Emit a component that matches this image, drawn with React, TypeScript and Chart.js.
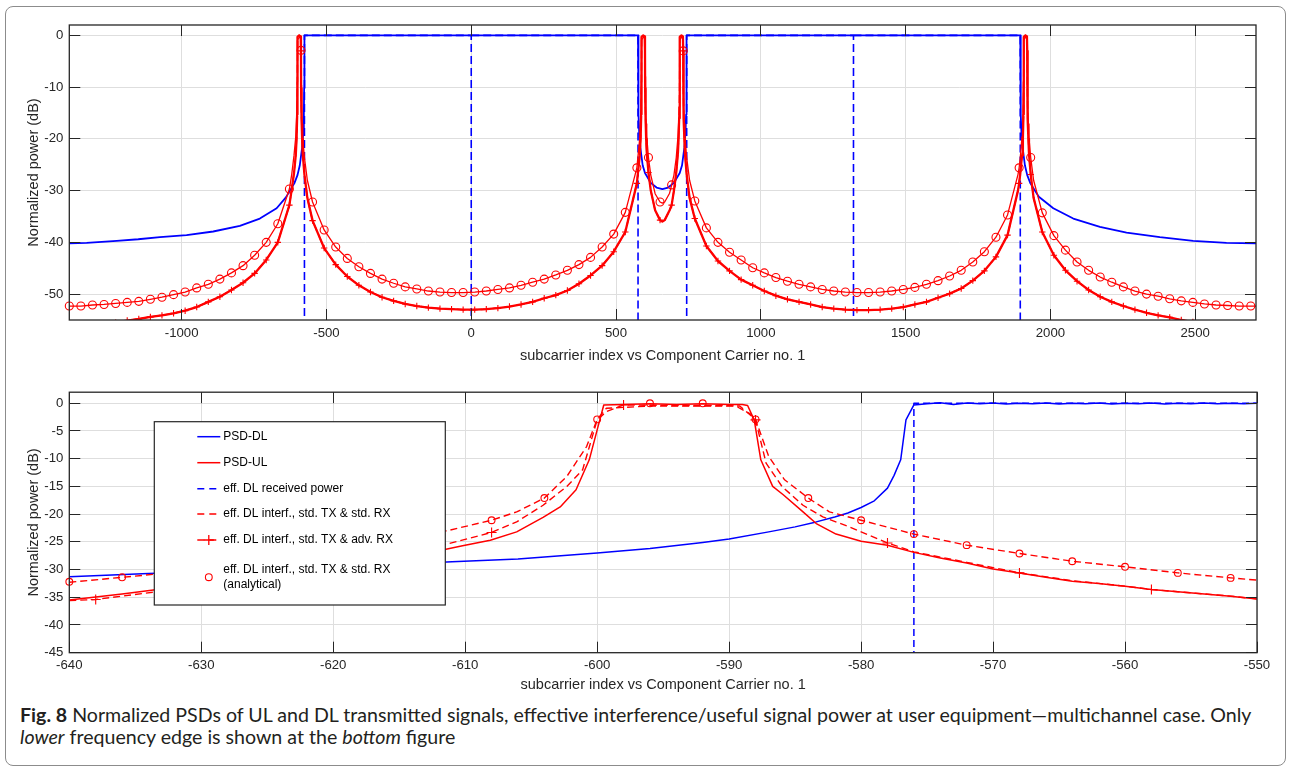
import React, { useEffect, useRef } from "react";
import { Chart, registerables } from "chart.js";

Chart.register(...registerables);

const FONT = "'Liberation Sans', Arial, Helvetica, sans-serif";
const BLUE = "#0000ff";
const RED = "#ff0000";
const AXIS = "#262626";
const GRID = "#dedede";

const X_TITLE = "subcarrier index vs Component Carrier no. 1";
const Y_TITLE = "Normalized power (dB)";

// ---------------- TOP CHART DATA ----------------
const topXRange = [-1388, 2710];
const topYRange = [-55, 2];
const topXTicks = [-1000, -500, 0, 500, 1000, 1500, 2000, 2500];
const topYTicks = [-50, -40, -30, -20, -10, 0];

// PSD-DL (blue, solid)
const topDlX = [-1388, -1328, -1224, -1150, -1075, -983, -891, -799, -730, -672, -640, -611, -600, -592, -584, -580, -578, -577, -576, 576, 577, 578, 580, 584, 592, 600, 620, 640, 660, 680, 700, 720, 728, 736, 740, 742, 743, 744, 1896, 1897, 1898, 1900, 1904, 1912, 1920, 1931, 1960, 2010, 2079, 2171, 2263, 2378, 2493, 2608, 2710];
const topDlY = [-40.2, -40.1, -39.7, -39.4, -39.0, -38.6, -37.9, -36.8, -35.4, -33.4, -31.3, -28.6, -27.0, -25.1, -21.7, -18.8, -15.3, -10.2, 0, 0, -10.2, -15.3, -18.8, -21.7, -25.1, -26.6, -28.5, -29.4, -29.7, -29.4, -28.5, -26.6, -25.1, -21.7, -18.8, -15.3, -10.2, 0, 0, -10.2, -15.3, -18.8, -21.7, -25.1, -27.0, -28.6, -31.2, -33.4, -35.4, -37.0, -38.1, -39.0, -39.7, -40.1, -40.2];

// eff. DL received power (blue, dashed); -300 stands for a null (-inf dB), null = gap
const topRxX = [-576, -576, 0, 0, 0, 0, 576, 576, 660, 744, 744, 1320, 1320, 1320, 1320, 1896, 1896];
const topRxY = [-300, 0, 0, -300, null, 0, 0, -300, null, -300, 0, 0, -300, null, 0, 0, -300];

// red curves, shared x grid
const topRedX = [
  -1388, -1348, -1308, -1268, -1228, -1188, -1148, -1108, -1068, -1028, -988, -948, -908, -868, -828, -788, -748, -708, -668, -628,
  -620, -612, -606, -603, -601, -600.5, -600, -599.5, -594, -589, -588, -587.5, -586, -584, -582, -576, -566,
  -548, -508, -468, -428, -388, -348, -308, -268, -228, -188, -148, -108, -68, -28, 12, 52, 92, 132, 172, 212, 252, 292, 332, 372, 412, 452, 492, 532,
  572, 582, 585, 587, 587.5, 588, 588.5, 594, 599, 600, 600.5, 602, 604, 606, 612, 620, 635, 652, 660, 668, 685, 692, 700, 708, 714, 716, 718, 719.5, 720, 720.5, 726, 731, 732, 732.5, 734, 736, 738, 744, 754, 772,
  812, 852, 892, 932, 972, 1012, 1052, 1092, 1132, 1172, 1212, 1252, 1292, 1332, 1372, 1412, 1452, 1492, 1532, 1572, 1612, 1652, 1692, 1732, 1772, 1812, 1852,
  1888, 1892, 1896, 1902, 1905, 1907, 1907.5, 1908, 1908.5, 1914, 1919, 1920, 1920.5, 1922, 1924, 1926, 1932, 1942, 1972,
  2012, 2052, 2092, 2132, 2172, 2212, 2252, 2292, 2332, 2372, 2412, 2452, 2492, 2532, 2572, 2612, 2652, 2692, 2710,
];
// PSD-UL / eff. DL interf. std TX & adv RX (overlapping, red with +)
const topUlY = [
  -57.3, -56.8, -56.4, -56.0, -55.5, -55.1, -54.8, -54.4, -54.1, -53.7, -53.2, -52.5, -51.5, -50.5, -49.2, -47.8, -46.0, -43.4, -40.0, -32.8,
  -29.8, -26.6, -23.2, -19.8, -15.3, -10.2, -4.8, -0.3, 0, -0.2, -3.0, -10.2, -16.0, -20.0, -22.8, -26.9, -31.4,
  -35.8, -41.1, -44.3, -46.6, -48.3, -49.6, -50.6, -51.3, -51.9, -52.3, -52.6, -52.8, -52.9, -53.0, -53.0, -52.9, -52.7, -52.4, -52.0, -51.5, -50.8, -50.2, -49.3, -48.0, -46.4, -44.5, -41.8, -38.0,
  -28.6, -23.2, -19.8, -15.3, -10.2, -4.8, -0.3, 0, -0.2, -3.0, -10.2, -16.0, -20.0, -22.5, -26.5, -30.0, -33.8, -35.7, -36.0, -35.7, -33.8, -32.8, -30.0, -26.5, -22.5, -20.0, -16.0, -10.2, -4.8, -0.3, 0, -0.2, -3.0, -10.2, -16.0, -20.0, -22.8, -26.9, -31.4, -35.4,
  -40.7, -43.6, -45.5, -47.2, -48.3, -49.4, -50.3, -51.0, -51.5, -52.0, -52.5, -52.8, -53.0, -53.1, -53.1, -53.0, -52.8, -52.5, -52.0, -51.5, -50.7, -49.9, -48.9, -47.4, -45.5, -42.8, -38.6,
  -30.0, -28.6, -26.6, -23.2, -19.8, -15.3, -10.2, -4.8, -0.3, 0, -0.2, -3.0, -10.2, -16.0, -20.0, -22.8, -26.9, -31.4, -38.0,
  -42.5, -45.4, -47.5, -49.2, -50.5, -51.5, -52.3, -53.0, -53.6, -54.1, -54.5, -55.0, -55.4, -55.8, -56.1, -56.4, -56.7, -57.0, -57.1,
];
// eff. DL interf. std TX & std RX (red with circles)
const topStdY = [
  -52.3, -52.3, -52.1, -52.0, -51.8, -51.6, -51.4, -51.0, -50.6, -50.1, -49.6, -48.8, -48.1, -47.1, -45.9, -44.5, -42.5, -40.0, -36.4, -29.7,
  -26.9, -23.2, -19.6, -15.5, -9.0, -5.5, -2.9, -0.9, -0.4, -0.5, -2.9, -9.6, -13.8, -17.1, -19.8, -23.6, -28.0,
  -32.2, -37.6, -40.9, -43.1, -44.7, -46.0, -47.1, -47.9, -48.6, -49.0, -49.4, -49.6, -49.7, -49.7, -49.6, -49.4, -49.1, -48.8, -48.3, -47.7, -47.1, -46.3, -45.4, -44.3, -42.9, -40.9, -38.4, -34.2,
  -25.6, -19.8, -15.5, -9.0, -5.5, -2.9, -0.9, -0.4, -0.5, -2.9, -8.0, -13.8, -17.1, -19.5, -23.6, -27.0, -30.6, -32.2, -32.4, -32.2, -30.5, -28.9, -27.0, -23.6, -19.5, -17.1, -13.8, -8.0, -2.9, -0.9, -0.4, -0.5, -3.0, -8.0, -13.8, -17.1, -19.8, -23.6, -28.0, -32.0,
  -37.2, -40.0, -41.9, -43.4, -44.9, -45.9, -46.8, -47.5, -48.1, -48.6, -49.1, -49.4, -49.6, -49.7, -49.7, -49.6, -49.4, -49.1, -48.7, -48.1, -47.4, -46.5, -45.4, -43.8, -41.8, -39.0, -34.7,
  -26.9, -25.6, -23.6, -19.6, -15.5, -9.0, -5.5, -2.9, -0.9, -0.4, -0.5, -2.9, -8.0, -13.8, -17.1, -19.8, -23.6, -28.0, -34.3,
  -38.7, -41.5, -43.8, -45.4, -46.7, -47.7, -48.6, -49.4, -50.0, -50.4, -50.9, -51.3, -51.6, -51.9, -52.1, -52.2, -52.3, -52.3, -52.3,
];
const topMarkerOrigin = -1388;
const topMarkerStep = 40;

// ---------------- BOTTOM CHART DATA ----------------
const botXRange = [-640, -550];
const botYRange = [-45, 2];
const botXTicks = [-640, -630, -620, -610, -600, -590, -580, -570, -560, -550];
const botYTicks = [-45, -40, -35, -30, -25, -20, -15, -10, -5, 0];

const botDlX = [-640, -634, -622, -611, -606, -600, -596, -592, -590, -587, -585, -583.4, -582, -581, -580, -579, -578, -577.5, -577, -576.6, -576, -575, -574, -573, -572, -571, -570, -569, -568, -567, -566, -565, -564, -563, -562, -561, -560, -559, -558, -557, -556, -555, -554, -553, -552, -551, -550];
const botDlY = [-31.3, -30.7, -29.8, -28.6, -28.1, -27.0, -26.2, -25.1, -24.5, -23.2, -22.3, -21.4, -20.5, -19.8, -18.8, -17.6, -15.3, -13.0, -10.2, -3.0, -0.3, -0.1, 0.1, -0.2, 0.05, -0.1, 0.05, -0.15, 0.0, -0.1, 0.05, -0.15, 0.0, -0.1, 0.05, -0.15, 0.0, -0.1, 0.05, -0.15, 0.0, -0.1, 0.05, -0.1, 0.0, -0.1, 0.0];

const botUlX = [-640, -636, -632, -628, -624, -620, -616, -612, -610.2, -608.1, -606.1, -604.1, -602.8, -601.6, -600.6, -600, -599.5, -598, -596, -594, -592, -590, -589, -588.6, -588.1, -587.6, -586.7, -585.9, -584.4, -583.4, -581.9, -580, -578, -576, -574, -572, -570, -568, -566, -564, -562, -560, -558, -556, -554, -552, -550];
const botUlY = [-35.5, -34.4, -33.2, -32.0, -30.7, -29.4, -28.0, -26.6, -25.7, -24.7, -23.2, -20.6, -18.7, -15.6, -10.2, -4.8, -0.3, -0.2, -0.1, -0.2, -0.1, -0.2, -0.2, -0.4, -3.0, -10.2, -15.0, -16.5, -19.6, -21.7, -23.6, -24.9, -25.6, -26.9, -27.9, -28.8, -29.9, -30.6, -31.4, -32.1, -32.5, -33.0, -33.6, -34.0, -34.4, -34.8, -35.3];

const botRxX = [-576, -576, -550];
const botRxY = [-300, 0, 0];

const botStdX = [-640, -636, -632, -628, -624, -620, -616, -611.2, -608, -606.1, -604, -602.3, -600.8, -600, -599.3, -596, -592, -589.2, -588, -587, -585.8, -584, -582.4, -580, -576, -572, -568, -564, -560, -556, -552, -550];
const botStdY = [-32.3, -31.4, -30.5, -29.5, -28.3, -26.9, -25.1, -22.9, -21.1, -19.6, -17.1, -13.2, -7.8, -2.9, -0.9, -0.5, -0.5, -0.5, -2.9, -9.6, -13.8, -17.1, -19.6, -21.1, -23.6, -25.6, -27.1, -28.5, -29.5, -30.6, -31.5, -31.9];

const botAdvX = [-640, -638, -628, -618, -611.2, -608, -606.1, -604.1, -602.3, -601.1, -600, -599.3, -598, -594, -590, -589.5, -588.4, -588, -587.2, -586, -584.4, -582.9, -580.9, -580, -578, -576, -572, -568, -564, -560, -558, -556, -552, -550];
const botAdvY = [-35.6, -35.4, -32.4, -28.8, -25.3, -23.3, -21.4, -18.4, -15.0, -12.0, -3.0, -1.5, -0.3, -0.4, -0.4, -0.5, -1.9, -3.0, -10.8, -15.0, -18.4, -20.5, -22.3, -23.2, -25.2, -26.8, -28.7, -30.6, -32.0, -33.0, -33.6, -34.0, -34.8, -35.3];
const botAdvMarkerOrigin = -638;
const botAdvMarkerStep = 10;

const botAnaX = [-640, -636, -632, -628, -624, -620, -616, -612, -608, -604, -600, -596, -592, -588, -584, -580, -576, -572, -568, -564, -560, -556, -552];
const botAnaY = [-32.2, -31.4, -30.5, -29.5, -28.3, -26.9, -25.2, -23.2, -21.1, -17.1, -2.9, 0.0, 0.0, -2.9, -17.1, -21.1, -23.6, -25.6, -27.1, -28.5, -29.5, -30.6, -31.5];

const legendLabels = [
  "PSD-DL",
  "PSD-UL",
  "eff. DL received power",
  "eff. DL interf., std. TX & std. RX",
  "eff. DL interf., std. TX & adv. RX",
  "eff. DL interf., std. TX & std. RX\n(analytical)",
];

// ---------------- helpers ----------------
const pts = (xs: number[], ys: (number | null)[]) => xs.map((x, i) => ({ x, y: ys[i] }));
const onGrid = (x: number, origin: number, step: number) => {
  const r = (((x - origin) % step) + step) % step;
  return r < 1e-6 || step - r < 1e-6;
};

const lineDs = (data: any[], color: string, width: number, dash: number[] = []) => ({
  data,
  showLine: true,
  borderColor: color,
  borderWidth: width,
  borderDash: dash,
  pointRadius: 0,
  pointHoverRadius: 0,
  fill: false,
  tension: 0,
  spanGaps: false,
  borderJoinStyle: "round",
});

const markerDs = (data: any[], style: string, radius: number, clip: any) => ({
  data,
  showLine: false,
  pointStyle: style,
  pointRadius: radius,
  pointHoverRadius: radius,
  pointBorderColor: RED,
  pointBackgroundColor: "rgba(0,0,0,0)",
  pointBorderWidth: 1.1,
  clip,
});

const alignPx = (p: number) => Math.round(p - 0.5) + 0.5;

const matlabAxes = {
  id: "matlabAxes",
  afterDatasetsDraw(chart: any) {
    const { ctx, chartArea: a, scales } = chart;
    const len = 11;
    ctx.save();
    ctx.strokeStyle = AXIS;
    ctx.lineWidth = 1;
    ctx.setLineDash([]);
    ctx.beginPath();
    scales.x.ticks.forEach((t: any) => {
      const p = alignPx(scales.x.getPixelForValue(t.value));
      ctx.moveTo(p, a.bottom);
      ctx.lineTo(p, a.bottom - len);
      ctx.moveTo(p, a.top);
      ctx.lineTo(p, a.top + len);
    });
    scales.y.ticks.forEach((t: any) => {
      const p = alignPx(scales.y.getPixelForValue(t.value));
      ctx.moveTo(a.left, p);
      ctx.lineTo(a.left + len, p);
      ctx.moveTo(a.right, p);
      ctx.lineTo(a.right - len, p);
    });
    ctx.stroke();
    ctx.lineWidth = 1.3;
    ctx.strokeRect(a.left, a.top, a.right - a.left, a.bottom - a.top);
    ctx.restore();
  },
};

const boxLegend = {
  id: "boxLegend",
  afterDraw(chart: any) {
    const { ctx, chartArea: a } = chart;
    const bx = a.left + 85;
    const by = a.top + 29.5;
    const bw = 291;
    const bh = 183.3;
    const rows = [15, 41, 67, 92.3, 118.3, 155.5];
    const styles = [
      { color: BLUE, dash: [] as number[], line: true, marker: "" },
      { color: RED, dash: [], line: true, marker: "" },
      { color: BLUE, dash: [7, 5], line: true, marker: "" },
      { color: RED, dash: [7, 5], line: true, marker: "" },
      { color: RED, dash: [7, 5], line: true, marker: "cross" },
      { color: RED, dash: [], line: false, marker: "circle" },
    ];
    ctx.save();
    ctx.fillStyle = "#ffffff";
    ctx.fillRect(bx, by, bw, bh);
    ctx.strokeStyle = AXIS;
    ctx.lineWidth = 1.2;
    ctx.setLineDash([]);
    ctx.strokeRect(bx, by, bw, bh);
    ctx.font = `12px ${FONT}`;
    ctx.textBaseline = "middle";
    ctx.textAlign = "left";
    legendLabels.forEach((label, i) => {
      const y = by + rows[i];
      const s = styles[i];
      const x0 = bx + 43;
      const x1 = bx + 66;
      const xm = (x0 + x1) / 2;
      ctx.strokeStyle = s.color;
      if (s.line) {
        ctx.lineWidth = 1.5;
        ctx.setLineDash(s.dash);
        ctx.beginPath();
        ctx.moveTo(x0, y);
        ctx.lineTo(x1, y);
        ctx.stroke();
        ctx.setLineDash([]);
      }
      if (s.marker === "cross") {
        ctx.lineWidth = 1.3;
        ctx.beginPath();
        ctx.moveTo(xm - 5, y);
        ctx.lineTo(xm + 5, y);
        ctx.moveTo(xm, y - 5);
        ctx.lineTo(xm, y + 5);
        ctx.stroke();
      } else if (s.marker === "circle") {
        ctx.lineWidth = 1.1;
        ctx.beginPath();
        ctx.arc(xm, y, 3.4, 0, Math.PI * 2);
        ctx.stroke();
      }
      ctx.fillStyle = "#000000";
      const lines = label.split("\n");
      const lh = 14.3;
      lines.forEach((t, j) => {
        ctx.fillText(t, bx + 69, y + (j - (lines.length - 1) / 2) * lh);
      });
    });
    ctx.restore();
  },
};

const scaleOpts = (
  range: number[],
  tickValues: number[],
  fitKey: "width" | "height",
  fitValue: number,
  tickPad: number,
  titlePad: any
) => ({
  type: "linear",
  min: range[0],
  max: range[1],
  afterFit: (s: any) => {
    s[fitKey] = fitValue;
  },
  afterBuildTicks: (s: any) => {
    s.ticks = tickValues.map((v) => ({ value: v }));
  },
  ticks: {
    autoSkip: false,
    maxRotation: 0,
    padding: tickPad,
    color: AXIS,
    font: { family: FONT, size: 13.2 },
    callback: (v: any) => String(v),
  },
  grid: { color: GRID, lineWidth: 1, drawTicks: false },
  border: { display: false },
  title: {
    display: true,
    text: fitKey === "height" ? X_TITLE : Y_TITLE,
    color: AXIS,
    font: { family: FONT, size: 14.5 },
    padding: titlePad,
  },
});

function topConfig(): any {
  const datasets = [
    lineDs(pts(topDlX, topDlY), BLUE, 1.8),
    lineDs(pts(topRxX, topRxY), BLUE, 1.6, [8, 4]),
    lineDs(pts(topRedX, topStdY), RED, 1.3),
    lineDs(pts(topRedX, topUlY), RED, 2.3),
    lineDs(pts(topRedX, topUlY), RED, 1.5, [8, 4]),
    markerDs(pts(topRedX, topUlY).filter((p) => onGrid(p.x, topMarkerOrigin, topMarkerStep)), "cross", 3.2, { left: 6, right: 6, top: 6, bottom: 0 }),
    markerDs(pts(topRedX, topStdY).filter((p) => onGrid(p.x, topMarkerOrigin, topMarkerStep)), "circle", 4, false),
  ];
  datasets.forEach((d: any, i) => (d.order = datasets.length - i));
  return {
    type: "scatter",
    data: { datasets },
    options: {
      responsive: false,
      animation: false,
      events: [],
      layout: { padding: { left: 0, top: 25, right: 35, bottom: 0 } },
      plugins: { legend: { display: false }, tooltip: { enabled: false } },
      scales: {
        x: scaleOpts(topXRange, topXTicks, "height", 52, 5, { top: 0, bottom: 7.3 }),
        y: scaleOpts(topYRange, topYTicks, "width", 69.3, 6, { top: 25, bottom: 0 }),
      },
    },
    plugins: [matlabAxes],
  };
}

function botConfig(): any {
  const datasets = [
    lineDs(pts(botDlX, botDlY), BLUE, 1.5),
    lineDs(pts(botRxX, botRxY), BLUE, 1.5, [7, 4]),
    lineDs(pts(botUlX, botUlY), RED, 1.5),
    lineDs(pts(botStdX, botStdY), RED, 1.4, [7, 4]),
    lineDs(pts(botAdvX, botAdvY), RED, 1.4, [7, 4]),
    markerDs(pts(botAdvX, botAdvY).filter((p) => onGrid(p.x, botAdvMarkerOrigin, botAdvMarkerStep)), "cross", 5, false),
    markerDs(pts(botAnaX, botAnaY), "circle", 3.4, false),
  ];
  datasets.forEach((d: any, i) => (d.order = datasets.length - i));
  return {
    type: "scatter",
    data: { datasets },
    options: {
      responsive: false,
      animation: false,
      events: [],
      layout: { padding: { left: 0, top: 20.2, right: 34, bottom: 0 } },
      plugins: { legend: { display: false }, tooltip: { enabled: false } },
      scales: {
        x: scaleOpts(botXRange, botXTicks, "height", 47.3, 5, { top: 0, bottom: 6.8 }),
        y: scaleOpts(botYRange, botYTicks, "width", 69.3, 6, { top: 25, bottom: 0 }),
      },
    },
    plugins: [matlabAxes, boxLegend],
  };
}

export default function App() {
  const topRef = useRef<HTMLCanvasElement>(null);
  const botRef = useRef<HTMLCanvasElement>(null);

  useEffect(() => {
    Chart.defaults.font.family = FONT;
    Chart.defaults.color = AXIS;
    const c1 = new Chart(topRef.current as HTMLCanvasElement, topConfig());
    const c2 = new Chart(botRef.current as HTMLCanvasElement, botConfig());
    return () => {
      c1.destroy();
      c2.destroy();
    };
  }, []);

  return (
    <div style={{ position: "absolute", left: 0, top: 0, width: 1291, height: 771, background: "#ffffff", overflow: "hidden" }}>
      <div
        style={{
          position: "absolute",
          left: 5,
          top: 6,
          width: 1281,
          height: 760,
          boxSizing: "border-box",
          border: "1px solid #8c8c8c",
          borderRadius: 8,
        }}
      />
      <canvas ref={topRef} width={1291} height={372} style={{ position: "absolute", left: 0, top: 0, width: 1291, height: 372 }} />
      <canvas ref={botRef} width={1291} height={328} style={{ position: "absolute", left: 0, top: 372, width: 1291, height: 328 }} />
      <div
        style={{
          position: "absolute",
          left: 20,
          top: 704,
          fontFamily: "Lato, 'Noto Sans', sans-serif",
          fontSize: 19.6,
          lineHeight: "21.7px",
          color: "#231f20",
          whiteSpace: "nowrap",
        }}
      >
        <b>Fig. 8</b> Normalized PSDs of UL and DL transmitted signals, effective interference/useful signal power at user equipment—multichannel case. Only
        <br />
        <i>lower</i> frequency edge is shown at the <i>bottom</i> figure
      </div>
    </div>
  );
}
